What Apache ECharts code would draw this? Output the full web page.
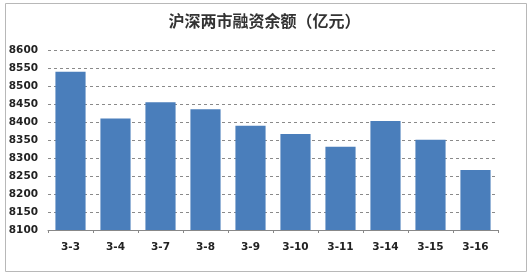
<!DOCTYPE html>
<html>
<head>
<meta charset="utf-8">
<script src="https://cdn.jsdelivr.net/npm/echarts@6/dist/echarts.min.js"></script>
<style>html,body{margin:0;padding:0;background:#fff;}#c{width:529px;height:273px;}</style>
</head>
<body>
<div id="c"></div>
<script>
const titleText = '沪深两市融资余额（亿元）';
const categories = ['3-3','3-4','3-7','3-8','3-9','3-10','3-11','3-14','3-15','3-16'];
const values = [8541, 8411, 8456, 8437, 8391, 8368, 8332, 8404, 8352, 8267];
const yMin = 8100, yMax = 8600, yStep = 50;

const chart = echarts.init(document.getElementById('c'), null, {renderer: 'canvas'});
chart.setOption({
  animation: false,
  backgroundColor: '#fff',
  graphic: [{
    type: 'rect', left: 3, top: 1,
    shape: {width: 521, height: 268},
    style: {fill: 'none', stroke: '#b8b8b8', lineWidth: 1},
    silent: true
  }],
  title: {
    text: titleText, left: 'center', top: 8,
    textStyle: {fontFamily: 'Noto Sans CJK SC', fontSize: 16, fontWeight: 'bold', color: '#333'}
  },
  grid: {left: 48, right: 31, top: 50.7, bottom: 43, containLabel: false},
  xAxis: {
    type: 'category', data: categories,
    axisLine: {lineStyle: {color: '#888'}},
    axisTick: {show: true, length: 3, lineStyle: {color: '#888'}},
    axisLabel: {margin: 12, fontSize: 10.5, fontWeight: 'bold', color: '#222', fontFamily: 'DejaVu Sans'}
  },
  yAxis: {
    type: 'value', min: yMin, max: yMax, interval: yStep,
    axisLine: {show: false}, axisTick: {show: false},
    axisLabel: {margin: 10, fontSize: 10.5, fontWeight: 'bold', color: '#222', fontFamily: 'DejaVu Sans',
      formatter: v => String(v)},
    splitLine: {lineStyle: {color: '#8a8a8a', type: [3, 3]}}
  },
  series: [{
    type: 'bar', data: values, barCategoryGap: '33%',
    itemStyle: {color: '#4a7ebb'}
  }]
});
</script>
</body>
</html>
